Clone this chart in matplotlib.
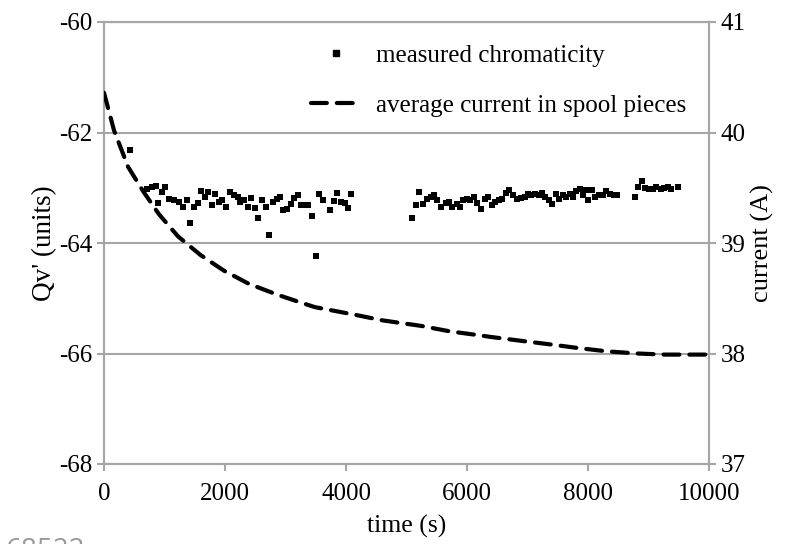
import matplotlib
matplotlib.use("Agg")
import matplotlib.pyplot as plt
from matplotlib.lines import Line2D

# measured chromaticity Qv' (units) vs time (s)
t_meas = [428, 716, 799, 863, 895, 959, 1003, 1074, 1150, 1246, 1310, 1374, 1419, 1482,
          1553, 1610, 1674, 1725, 1789, 1840, 1904, 1955, 2019, 2083, 2147, 2211, 2249,
          2313, 2377, 2428, 2498, 2543, 2614, 2677, 2735, 2799, 2856, 2914, 2959, 3029,
          3099, 3144, 3208, 3259, 3336, 3374, 3444, 3508, 3559, 3623, 3738, 3796, 3853,
          3911, 3987, 4038, 4090,
          5093, 5163, 5214, 5278, 5336, 5400, 5457, 5508, 5578, 5649, 5706, 5751, 5828,
          5879, 5930, 5994, 6045, 6109, 6173, 6230, 6294, 6339, 6409, 6467, 6531, 6582,
          6646, 6697, 6761, 6825, 6888, 6952, 7010, 7061, 7125, 7182, 7233, 7285, 7349,
          7400, 7464, 7527, 7591, 7642, 7700, 7757, 7809, 7872, 7924, 7975, 8000, 8064,
          8115, 8179, 8243, 8294, 8358, 8422, 8486,
          8773, 8831, 8895, 8946, 9010, 9074, 9125, 9202, 9253, 9329, 9374, 9489]
qv_meas = [-62.32, -63.02, -62.99, -62.96, -63.28, -63.08, -62.98, -63.20, -63.23, -63.26,
           -63.34, -63.22, -63.63, -63.34, -63.28, -63.05, -63.17, -63.08, -63.32, -63.12,
           -63.26, -63.22, -63.34, -63.08, -63.14, -63.17, -63.26, -63.22, -63.34, -63.18,
           -63.37, -63.54, -63.22, -63.35, -63.85, -63.26, -63.20, -63.16, -63.41, -63.38,
           -63.30, -63.18, -63.14, -63.31, -63.31, -63.32, -63.51, -64.24, -63.12, -63.22,
           -63.41, -63.24, -63.10, -63.26, -63.28, -63.37, -63.12,
           -63.54, -63.32, -63.08, -63.30, -63.20, -63.17, -63.14, -63.23, -63.34, -63.28,
           -63.26, -63.34, -63.30, -63.35, -63.22, -63.20, -63.23, -63.16, -63.28, -63.38,
           -63.20, -63.17, -63.32, -63.26, -63.23, -63.20, -63.09, -63.04, -63.14, -63.20,
           -63.19, -63.17, -63.11, -63.14, -63.12, -63.14, -63.10, -63.17, -63.23, -63.29,
           -63.11, -63.20, -63.14, -63.17, -63.11, -63.17, -63.05, -63.02, -63.14, -63.04,
           -63.22, -63.04, -63.16, -63.14, -63.14, -63.05, -63.11, -63.14, -63.14,
           -63.16, -62.98, -62.88, -63.00, -63.02, -63.02, -62.99, -63.02, -63.00, -62.98,
           -63.02, -62.99]

# average current in spool pieces (A) vs time (s)
t_cur = [0, 165, 397, 645, 909, 1223, 1598, 1981, 2396, 2876, 3259, 3483, 3770, 4154,
         4601, 5240, 5719, 6134, 6390, 6965, 7412, 7828, 8307, 8818, 9266, 9777, 10000]
i_cur = [40.36, 40.02, 39.69, 39.47, 39.26, 39.06, 38.89, 38.75, 38.63, 38.53, 38.46,
         38.42, 38.39, 38.35, 38.30, 38.25, 38.20, 38.17, 38.15, 38.11, 38.08, 38.05,
         38.02, 38.00, 37.99, 37.99, 37.99]

x_ticks = [0, 2000, 4000, 6000, 8000, 10000]
left_ticks = [-68, -66, -64, -62, -60]
right_ticks = [37, 38, 39, 40, 41]

plt.rcParams['font.family'] = ['Liberation Serif', 'DejaVu Serif']
grid_c = '#a6a6a6'
dash = (0, (3.8, 2.4))

fig = plt.figure(figsize=(7.92, 5.44), dpi=100)
ax = fig.add_axes([104/792, 1 - 464/544, 605/792, 442/544])
ax2 = ax.twinx()

ax.set_xlim(0, 10000)
ax.set_ylim(-68, -60)
ax2.set_ylim(37, 41)
ax.set_xticks(x_ticks)
ax.set_yticks(left_ticks)
ax2.set_yticks(right_ticks)
ax.set_xticklabels([str(v) for v in x_ticks])
ax.set_yticklabels([str(v) for v in left_ticks])
ax2.set_yticklabels([str(v) for v in right_ticks])

ax.yaxis.grid(True, color=grid_c, linewidth=1.5)
ax.set_axisbelow(True)
for a in (ax, ax2):
    for s in a.spines.values():
        s.set_color(grid_c)
        s.set_linewidth(1.5)
    a.tick_params(axis='both', colors=grid_c, labelcolor='black', labelsize=18,
                  length=5, width=1.5, direction='out')
ax.tick_params(axis='x', pad=9)

ax.scatter(t_meas, qv_meas, marker='s', s=18, color='black', linewidths=0, zorder=3)
ax2.plot(t_cur, i_cur, color='black', linewidth=3, linestyle=dash,
         dash_capstyle='round', zorder=3)

ax.set_xlabel('time (s)', fontsize=18.5, labelpad=7)
ax.set_ylabel("Qv' (units)", fontsize=19.5, labelpad=1)
ax2.set_ylabel('current (A)', fontsize=19, labelpad=4)

handles = [Line2D([], [], marker='s', color='black', linestyle='none', markersize=4.5),
           Line2D([], [], color='black', linewidth=3, linestyle=dash,
                  dash_capstyle='round')]
ax2.legend(handles, ['measured chromaticity', 'average current in spool pieces'],
           loc='upper right', frameon=False, fontsize=18, handlelength=2.0,
           handletextpad=0.6, labelspacing=1.1, bbox_to_anchor=(1.0, 1.0))

fig.text(85/792, 1 - 537/544, '68522', color='#999999', fontsize=20,
         family='Open Sans', ha='right', va='top')

fig.savefig('out.png', dpi=100)
